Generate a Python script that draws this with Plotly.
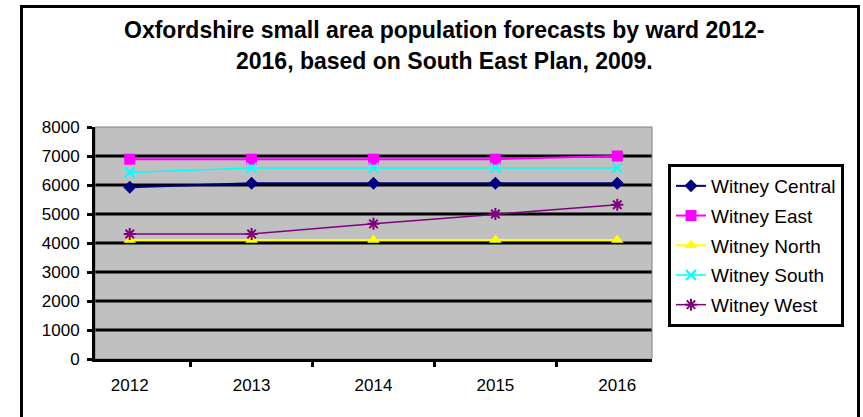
import plotly.graph_objects as go

# Forecast years and ward populations
years = ["2012", "2013", "2014", "2015", "2016"]
witney_central = [5920, 6060, 6060, 6060, 6060]
witney_east = [6890, 6890, 6890, 6890, 7000]
witney_north = [4100, 4100, 4100, 4100, 4100]
witney_south = [6430, 6590, 6590, 6590, 6590]
witney_west = [4310, 4310, 4660, 5000, 5320]

y_ticks = [0, 1000, 2000, 3000, 4000, 5000, 6000, 7000, 8000]

FONT = "Liberation Sans, Arial, sans-serif"
W, H = 863, 417
ML, MR, MT, MB = 95, 211, 127, 58
PW, PH = W - ML - MR, H - MT - MB


def px_x(px):
    return (px - ML) / PW


def px_y(py):
    return (H - MB - py) / PH


series = [
    ("Witney Central", witney_central, "#000080", "diamond", 10, 2, None),
    ("Witney East", witney_east, "#FF00FF", "square", 11, 2, None),
    ("Witney North", witney_north, "#FFFF00", "triangle-up", 11, 2, None),
    ("Witney South", witney_south, "#00FFFF", "x-thin-open", 10, 1.5, 2),
    ("Witney West", witney_west, "#800080", "asterisk-open", 10, 1.5, 2),
]

fig = go.Figure()
for name, vals, color, symbol, size, lw, mlw in series:
    marker = dict(symbol=symbol, size=size, color=color)
    if mlw:
        marker["line"] = dict(color=color, width=mlw)
    fig.add_trace(go.Scatter(
        x=years, y=vals, name=name, legendgroup=name, mode="lines+markers",
        line=dict(color=color, width=lw), marker=marker,
    ))

shapes = []
# horizontal gridlines
for v in y_ticks[1:-1]:
    shapes.append(dict(type="line", xref="paper", yref="y", x0=0, x1=1,
                       y0=v, y1=v, line=dict(color="black", width=3),
                       layer="below"))
# plot area border
shapes.append(dict(type="rect", xref="paper", yref="paper", x0=0, x1=1,
                   y0=0, y1=1, line=dict(color="#808080", width=1),
                   layer="below"))
# outer chart frame
shapes.append(dict(type="rect", xref="paper", yref="paper",
                   x0=px_x(21.5), x1=px_x(858.5),
                   y0=px_y(430), y1=px_y(6.5),
                   line=dict(color="black", width=3), layer="above"))

title_font = dict(family=FONT, size=23, color="black", weight="bold")
annotations = [
    dict(text="Oxfordshire small area population forecasts by ward 2012-",
         xref="paper", yref="paper", x=px_x(444), y=px_y(30),
         xanchor="center", yanchor="middle", showarrow=False,
         font=title_font),
    dict(text="2016, based on South East Plan, 2009.",
         xref="paper", yref="paper", x=px_x(444), y=px_y(61),
         xanchor="center", yanchor="middle", showarrow=False,
         font=title_font),
]

fig.update_layout(
    width=W, height=H,
    margin=dict(l=ML, r=MR, t=MT, b=MB, pad=0),
    paper_bgcolor="white",
    plot_bgcolor="#C0C0C0",
    font=dict(family=FONT, size=17, color="black"),
    showlegend=True,
    legend=dict(
        x=px_x(668), y=px_y(164), xanchor="left", yanchor="top",
        bgcolor="white", bordercolor="black", borderwidth=3,
        font=dict(family=FONT, size=19, color="black"),
        tracegroupgap=2,
    ),
    shapes=shapes,
    annotations=annotations,
)

fig.update_xaxes(
    type="category", tickson="boundaries", ticks="outside", ticklen=5,
    tickwidth=3, tickcolor="black", showline=True, linecolor="black",
    linewidth=3, showgrid=False, tickfont=dict(size=17),
    ticklabelstandoff=9,
)
fig.update_yaxes(
    range=[0, 8000], tickvals=y_ticks, ticks="outside", ticklen=5,
    tickwidth=3, tickcolor="black", showline=True, linecolor="black",
    linewidth=3, showgrid=False, zeroline=False, tickfont=dict(size=17),
    ticklabelstandoff=4,
)

fig.write_html("out.html")
